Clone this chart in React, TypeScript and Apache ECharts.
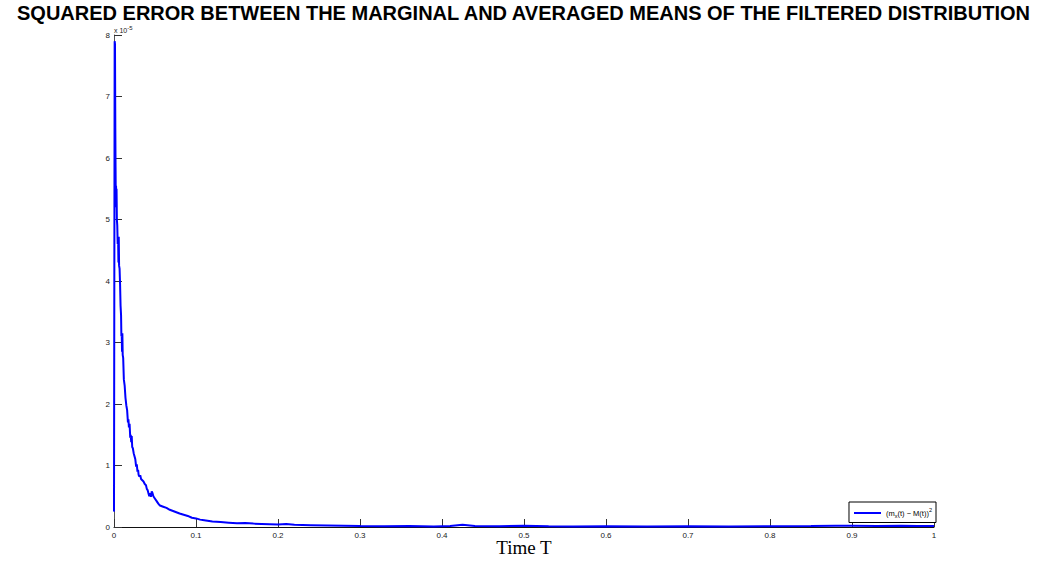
import React, { useEffect, useRef } from "react";
import * as echarts from "echarts";

// Time samples and squared error values (in units of 1e-5)
const timeT: number[] = [
  0, 0.0008, 0.0012, 0.0016, 0.0019, 0.0022, 0.0025, 0.0028, 0.0031, 0.0035,
  0.004, 0.0045, 0.005, 0.0054, 0.0058, 0.0062, 0.0068, 0.0074, 0.008, 0.0086,
  0.009, 0.0094, 0.0098, 0.0102, 0.0106, 0.0112, 0.012, 0.013, 0.014, 0.015,
  0.016, 0.017, 0.0176, 0.0182, 0.019, 0.0198, 0.0204, 0.021, 0.0216, 0.0222,
  0.023, 0.024, 0.025, 0.026, 0.027, 0.0278, 0.0286, 0.0294, 0.03, 0.031,
  0.032, 0.033, 0.0345, 0.036, 0.0375, 0.039, 0.04, 0.041, 0.042, 0.043,
  0.044, 0.045, 0.046, 0.047, 0.048, 0.05, 0.052, 0.054, 0.056, 0.06,
  0.064, 0.068, 0.072, 0.076, 0.08, 0.085, 0.09, 0.095, 0.1, 0.105,
  0.11, 0.12, 0.13, 0.14, 0.15, 0.16, 0.17, 0.18, 0.19, 0.2,
  0.21, 0.22, 0.24, 0.26, 0.28, 0.3, 0.33, 0.36, 0.39, 0.41,
  0.425, 0.44, 0.47, 0.5, 0.53, 0.56, 0.6, 0.65, 0.7, 0.75,
  0.8, 0.85, 0.88, 0.9, 0.93, 0.96, 0.98, 1.0,
];
const squaredError: number[] = [
  0.25, 7.9, 7.85, 6.5, 5.85, 5.3, 5.55, 5.2, 5.5, 5.0,
  4.9, 4.6, 4.72, 4.3, 4.72, 4.25, 4.2, 3.95, 3.6, 3.45,
  3.1, 3.15, 2.85, 3.15, 2.8, 2.75, 2.4, 2.3, 2.1, 1.98,
  1.9, 1.7, 1.75, 1.62, 1.68, 1.45, 1.5, 1.38, 1.48, 1.3,
  1.28, 1.2, 1.15, 1.1, 0.98, 1.02, 0.9, 0.93, 0.85, 0.82,
  0.84, 0.78, 0.76, 0.74, 0.7, 0.68, 0.62, 0.6, 0.55, 0.5,
  0.55, 0.49, 0.58, 0.55, 0.5, 0.46, 0.42, 0.38, 0.35, 0.33,
  0.31, 0.28, 0.26, 0.24, 0.22, 0.2, 0.18, 0.15, 0.14, 0.12,
  0.11, 0.09, 0.08, 0.07, 0.06, 0.065, 0.055, 0.05, 0.045, 0.04,
  0.05, 0.035, 0.03, 0.025, 0.02, 0.015, 0.012, 0.015, 0.01, 0.015,
  0.035, 0.015, 0.012, 0.02, 0.012, 0.01, 0.012, 0.008, 0.012, 0.01,
  0.012, 0.015, 0.02, 0.02, 0.015, 0.02, 0.015, 0.015,
];

const titleText =
  "SQUARED ERROR BETWEEN THE MARGINAL AND AVERAGED MEANS OF THE FILTERED DISTRIBUTION";
const xAxisName = "Time T";
const seriesName = "(m_x(t) − M(t))^2";

export default function App() {
  const ref = useRef<HTMLDivElement>(null);

  useEffect(() => {
    document.body.style.margin = "0";
    if (!ref.current) return;
    const chart = echarts.init(ref.current, null, { renderer: "svg" });
    const points = timeT.map((t, i) => [t, squaredError[i]]);
    const sans = "Liberation Sans, Arial, sans-serif";
    chart.setOption({
      animation: false,
      backgroundColor: "#fff",
      title: {
        text: titleText,
        left: "center",
        top: 3,
        padding: 0,
        textStyle: {
          fontFamily: sans,
          fontWeight: "bold",
          fontSize: 20,
          lineHeight: 20,
          color: "#000",
        },
      },
      grid: {
        left: 114,
        right: 113,
        top: 35,
        bottom: 35,
        outerBoundsMode: "none",
        containLabel: false,
      },
      xAxis: {
        type: "value",
        min: 0,
        max: 1,
        interval: 0.1,
        name: xAxisName,
        nameLocation: "middle",
        nameGap: 11,
        nameMoveOverlap: false,
        nameTextStyle: {
          fontFamily: "Liberation Serif, DejaVu Serif, serif",
          fontSize: 19,
          lineHeight: 19,
          color: "#000",
        },
        axisLine: { show: true, lineStyle: { color: "#111", width: 1 } },
        axisTick: { show: true, inside: true, length: 8, lineStyle: { color: "#333" } },
        axisLabel: {
          fontFamily: sans,
          fontSize: 8,
          color: "#222",
          margin: 4,
          formatter: (v: number) => String(Math.round(v * 10) / 10),
        },
        splitLine: { show: false },
      },
      yAxis: {
        type: "value",
        min: 0,
        max: 8,
        interval: 1,
        axisLine: { show: true, lineStyle: { color: "#555", width: 1 } },
        axisTick: { show: true, inside: true, length: 8, lineStyle: { color: "#333" } },
        axisLabel: {
          fontFamily: sans,
          fontSize: 8,
          color: "#222",
          margin: 4,
        },
        splitLine: { show: false },
      },
      legend: {
        right: 111,
        top: 502,
        orient: "horizontal",
        backgroundColor: "#fff",
        borderColor: "#000",
        borderWidth: 1,
        borderRadius: 0,
        padding: [5, 4, 4, 5],
        itemWidth: 27,
        itemHeight: 2,
        itemGap: 4,
        data: [{ name: seriesName, icon: "rect" }],
        formatter: () => "(m{sub|x}(t) − M(t)){sup|2}",
        textStyle: {
          fontFamily: sans,
          fontSize: 7.5,
          color: "#000",
          rich: {
            sub: { fontSize: 5.5, padding: [5, 0, 0, 0], fontFamily: sans },
            sup: { fontSize: 5.5, padding: [0, 0, 6, 0], fontFamily: sans },
          },
        },
      },
      graphic: [
        {
          type: "text",
          left: 114,
          top: 25,
          z: -1,
          style: {
            text: "x 10{e|-5}",
            fontFamily: sans,
            fontSize: 7,
            fill: "#222",
            rich: { e: { fontSize: 6, padding: [0, 0, 5, 0] } },
          },
        },
      ],
      series: [
        {
          name: seriesName,
          type: "line",
          data: points,
          symbol: "none",
          lineStyle: { color: "#0000ff", width: 2 },
          itemStyle: { color: "#0000ff" },
          z: 1,
        },
      ],
    });
    return () => chart.dispose();
  }, []);

  return <div ref={ref} style={{ width: 1047, height: 562 }} />;
}
